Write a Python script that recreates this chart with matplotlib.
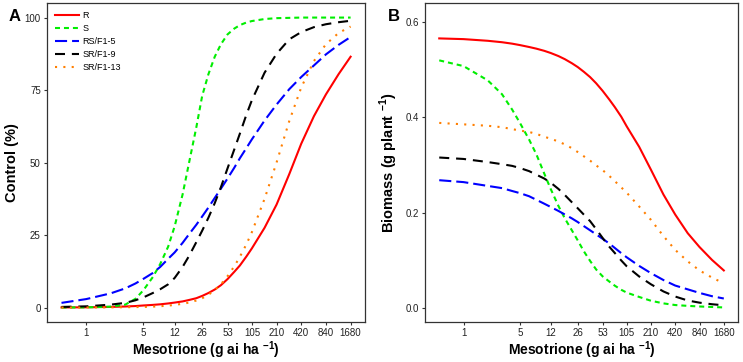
import numpy as np
import matplotlib
matplotlib.use("Agg")
import matplotlib.pyplot as plt
from matplotlib.ticker import FixedLocator, FixedFormatter, NullLocator

plt.rcParams['font.family'] = ['Liberation Sans', 'DejaVu Sans']
plt.rcParams['mathtext.fontset'] = 'custom'
plt.rcParams['mathtext.rm'] = 'Liberation Sans'
plt.rcParams['mathtext.bf'] = 'Liberation Sans:bold'

dose = [0.5, 1, 2, 3, 4, 5, 6.5, 8, 10, 12, 15, 18, 22, 26, 31, 37, 44, 53, 64, 75,
        90, 105, 150, 210, 300, 420, 600, 840, 1200, 1680]
xticks = [1, 5, 12, 26, 53, 105, 210, 420, 840, 1680]
labels = ['R', 'S', 'RS/F1-5', 'SR/F1-9', 'SR/F1-13']

# panel A: control (%)
ctrl_R = [0.02, 0.07, 0.2, 0.35, 0.5, 0.7, 0.9, 1.1, 1.4, 1.7, 2.1, 2.6, 3.2, 4.0, 5.0, 6.2, 7.7, 9.8,
          12.3, 14.5, 17.6, 20.4, 27.5, 35.5, 46, 56.5, 66, 73.5, 80.5, 86.5]
ctrl_S = [0, 0.05, 0.3, 1.0, 3.0, 6.0, 10.5, 15, 21, 28, 39, 50, 62, 73, 80.5, 86.5, 90.8, 94.2,
          96.2, 97.4, 98.3, 98.8, 99.5, 99.8, 99.9, 100, 100, 100, 100, 100]
ctrl_RS5 = [1.6, 2.9, 4.9, 6.6, 8.3, 9.9, 11.9, 14, 16.8, 19, 22.3, 25.3, 28.5, 31.4, 34.5, 37.8,
            41, 44.5, 48.2, 51.5, 55, 58, 64.5, 70, 75.3, 79.5, 83.5, 87.3, 90.6, 93.3]
ctrl_SR9 = [0.2, 0.4, 1.0, 1.6, 2.5, 3.5, 5.0, 6.3, 8.0, 10.2, 14, 17.8, 22.5, 26.5, 31, 36, 41.5,
            48, 54.5, 60, 66.5, 71.5, 81, 87.5, 92.5, 95, 96.7, 97.7, 98.4, 98.9]
ctrl_SR13 = [0, 0.01, 0.04, 0.1, 0.15, 0.2, 0.3, 0.45, 0.65, 0.9, 1.3, 1.7, 2.4, 3.2, 4.4, 6.0, 8.0,
             10.8, 14.2, 17.5, 21.8, 26, 37.5, 50, 64.3, 75.9, 85, 90.8, 94.7, 96.9]

# panel B: biomass (g/plant)
bio_R = [0.565, 0.5635, 0.56, 0.557, 0.554, 0.551, 0.547, 0.5435, 0.539, 0.5345, 0.528, 0.5215,
         0.513, 0.505, 0.495, 0.484, 0.471, 0.455, 0.437, 0.421, 0.401, 0.381, 0.338, 0.29, 0.238,
         0.196, 0.157, 0.128, 0.101, 0.079]
bio_S = [0.519, 0.507, 0.477, 0.448, 0.416, 0.388, 0.353, 0.322, 0.282, 0.25, 0.214, 0.188, 0.163,
         0.142, 0.119, 0.099, 0.081, 0.0665, 0.0557, 0.047, 0.0385, 0.0326, 0.0235, 0.0155, 0.01,
         0.0065, 0.0048, 0.0035, 0.0025, 0.0015]
bio_RS5 = [0.268, 0.264, 0.256, 0.2514, 0.2454, 0.2409, 0.2344, 0.2269, 0.2188, 0.212, 0.2036,
           0.1962, 0.188, 0.1804, 0.1718, 0.1631, 0.1545, 0.1452, 0.1354, 0.126, 0.1152, 0.1066,
           0.0885, 0.0733, 0.0589, 0.0473, 0.0394, 0.0319, 0.025, 0.0202]
bio_SR9 = [0.3155, 0.3125, 0.306, 0.3015, 0.298, 0.2935, 0.287, 0.2795, 0.2715, 0.263, 0.2497,
           0.2369, 0.2218, 0.2093, 0.1958, 0.1823, 0.1655, 0.1469, 0.1287, 0.1154, 0.0999, 0.0878,
           0.0664, 0.05, 0.035, 0.0243, 0.016, 0.0115, 0.0082, 0.006]
bio_SR13 = [0.388, 0.385, 0.382, 0.379, 0.375, 0.372, 0.369, 0.365, 0.359, 0.355, 0.349, 0.343,
            0.335, 0.327, 0.318, 0.309, 0.299, 0.289, 0.277, 0.266, 0.253, 0.242, 0.213, 0.185,
            0.151, 0.122, 0.098, 0.079, 0.064, 0.052]

styles = [
    dict(color='#ff0000', linestyle='-'),
    dict(color='#00ee00', linestyle=(0, (2.4, 1.9))),
    dict(color='#0000ff', linestyle=(0, (5.8, 2.4))),
    dict(color='#000000', linestyle=(0, (4.8, 3.3))),
    dict(color='#ff7f00', linestyle=(0, (1, 3))),
]

fig = plt.figure(figsize=(7.43, 3.62), dpi=100)
axA = fig.add_axes([0.0633, 0.1105, 0.428, 0.881])
axB = fig.add_axes([0.572, 0.1105, 0.4213, 0.881])

for ax, series in ((axA, [ctrl_R, ctrl_S, ctrl_RS5, ctrl_SR9, ctrl_SR13]),
                   (axB, [bio_R, bio_S, bio_RS5, bio_SR9, bio_SR13])):
    for y, st, lab in zip(series, styles, labels):
        ax.plot(dose, y, lw=1.5, label=lab, **st)
    ax.set_xscale('log')
    ax.set_xlim(0.333, 2520)
    ax.xaxis.set_major_locator(FixedLocator(xticks))
    ax.xaxis.set_major_formatter(FixedFormatter([str(t) for t in xticks]))
    ax.xaxis.set_minor_locator(NullLocator())
    ax.tick_params(direction='out', length=2.5, width=0.8, color='#333333',
                   labelsize=7, labelcolor='#222222', pad=2)
    for sp in ax.spines.values():
        sp.set_linewidth(0.9)
        sp.set_color('#333333')
    ax.set_xlabel(r'Mesotrione (g ai ha $^{\mathbf{-1}}$)', fontsize=10, fontweight='bold', labelpad=1)

axA.set_ylim(-5, 105)
axA.set_yticks([0, 25, 50, 75, 100])
axA.set_ylabel('Control (%)', fontsize=10.5, fontweight='bold', labelpad=4)

axB.set_ylim(-0.029, 0.639)
axB.set_yticks([0.0, 0.2, 0.4, 0.6])
axB.set_yticklabels(['0.0', '0.2', '0.4', '0.6'])
axB.set_ylabel(r'Biomass (g plant $^{\mathbf{-1}}$)', fontsize=10.5, fontweight='bold', labelpad=4)

axA.legend(loc='upper left', bbox_to_anchor=(0.0, 1.0), frameon=False, fontsize=6.5,
           handlelength=2.6, handletextpad=0.4, labelspacing=0.45, borderaxespad=0.5)

fig.text(0.012, 0.975, 'A', fontsize=12, fontweight='bold', va='top')
fig.text(0.522, 0.975, 'B', fontsize=12, fontweight='bold', va='top')

fig.savefig('out.png', dpi=100)
